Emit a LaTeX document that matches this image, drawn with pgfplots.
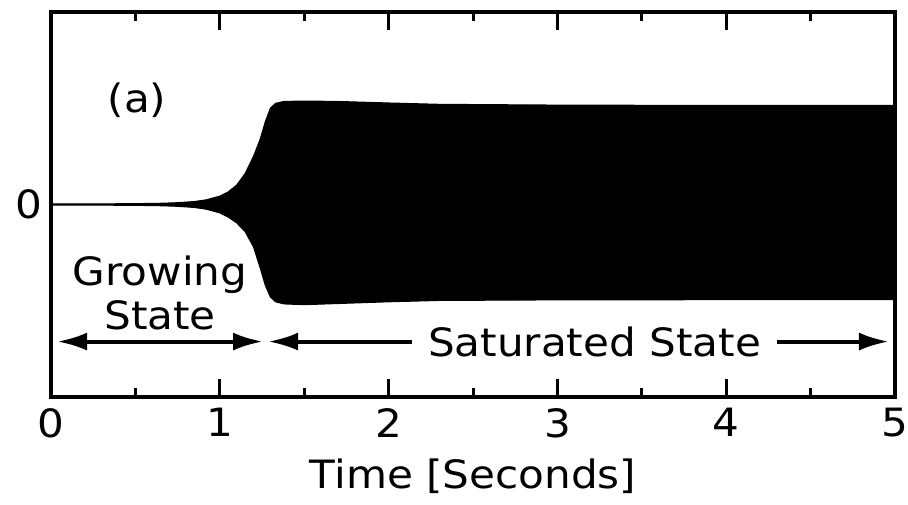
\documentclass[border=0pt]{standalone}
\usepackage{fontspec}
\setmainfont{DejaVu Sans}[FakeStretch=1.08]
\usepackage{pgfplots}
\pgfplotsset{compat=1.18}
\usetikzlibrary{arrows.meta,calc}
\begin{document}
\begin{tikzpicture}
\newcommand{\bigf}{\fontsize{19.5}{23}\selectfont}
\begin{axis}[
  name=ax,
  scale only axis,
  width=422pt, height=192.5pt,
  xmin=0, xmax=5, ymin=-1, ymax=1,
  axis line style={line width=2pt},
  xtick={0,1,2,3,4,5},
  minor xtick={0.5,1.5,2.5,3.5,4.5},
  ytick={0},
  ytick style={draw=none},
  xtick pos=both,
  tick align=inside,
  major tick length=9pt,
  minor tick length=4.5pt,
  xtick style={line width=1.5pt, black},
  minor tick style={line width=1.5pt, black},
  /pgf/number format/assume math mode=true,
  tick label style={font=\bigf},
  xticklabel style={yshift=-2pt},
  yticklabel style={xshift=-1pt},
  xlabel={Time [Seconds]},
  xlabel style={font=\bigf, yshift=-4pt},
  clip=false,
]
\addplot[draw=black, line width=0.6pt, fill=black] coordinates {
 (0,0.003) (0.3,0.003) (0.5,0.004) (0.65,0.006) (0.75,0.009) (0.85,0.015)
 (0.92,0.024) (1.0,0.043) (1.05,0.065) (1.1,0.1) (1.15,0.16) (1.2,0.25)
 (1.24,0.34) (1.27,0.43) (1.30,0.5) (1.33,0.525) (1.38,0.535) (1.5,0.537)
 (1.7,0.535) (2.0,0.527) (2.3,0.52) (3.0,0.516) (4.0,0.514) (5.0,0.514)
 (5.0,-0.494) (4.0,-0.494) (3.0,-0.495) (2.3,-0.498) (2.0,-0.505) (1.7,-0.514)
 (1.5,-0.52) (1.38,-0.516) (1.33,-0.505) (1.30,-0.48) (1.27,-0.42) (1.24,-0.33)
 (1.2,-0.22) (1.15,-0.14) (1.1,-0.095) (1.05,-0.065) (1.0,-0.043) (0.92,-0.024)
 (0.85,-0.015) (0.75,-0.009) (0.65,-0.006) (0.5,-0.004) (0.3,-0.003) (0,-0.003)
} -- cycle;
\node[font=\bigf] at (axis cs:0.51,0.543) {(a)};
\node[font=\bigf, align=center] at (axis cs:0.646,-0.457) {Growing\\[-1pt]State};
\draw[line width=2pt, {Latex[length=15pt,width=9pt]}-{Latex[length=15pt,width=9pt]}]
  (axis cs:0.036,-0.712) -- (axis cs:1.256,-0.712);
\draw[line width=2pt, {Latex[length=15pt,width=9pt]}-{Latex[length=15pt,width=9pt]}]
  (axis cs:1.286,-0.712) -- (axis cs:4.964,-0.712);
\node[font=\bigf, fill=white, inner xsep=8pt, inner ysep=2pt] at (axis cs:3.22,-0.712) {Saturated State};
\end{axis}
\pgfresetboundingbox
\path[use as bounding box] ($(ax.south west)+(-25.5pt,-53.5pt)$) rectangle ($(ax.north east)+(6.5pt,6pt)$);
\end{tikzpicture}
\end{document}
